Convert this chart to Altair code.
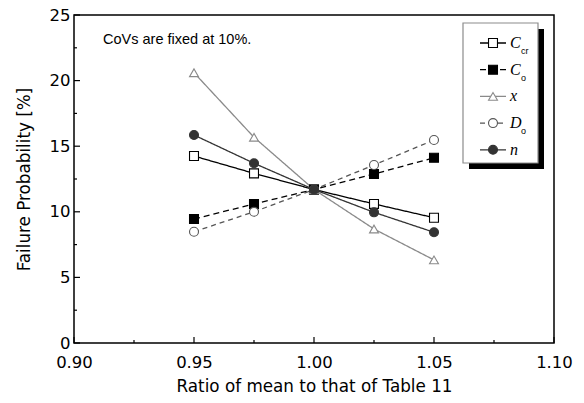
import altair as alt
import pandas as pd

# ---- data ----
ratio = [0.95, 0.975, 1.00, 1.025, 1.05]
series_names = ["Ccr", "Co", "x", "Do", "n"]
p_Ccr = [14.25, 12.93, 11.7, 10.6, 9.55]
p_Co = [9.45, 10.6, 11.7, 12.88, 14.12]
p_x = [20.6, 15.68, 11.7, 8.69, 6.33]
p_Do = [8.48, 10.0, 11.7, 13.57, 15.47]
p_n = [15.85, 13.7, 11.7, 9.96, 8.44]
legend_main = ["C", "C", "x", "D", "n"]
legend_sub = ["cr", "o", "", "o", ""]
x_major = [0.90, 0.95, 1.00, 1.05, 1.10]
x_minor = [0.925, 0.975, 1.025, 1.075]
y_major = [0, 5, 10, 15, 20, 25]
y_minor = [2.5, 7.5, 12.5, 17.5, 22.5]
note_text = ["CoVs are fixed at 10%."]
note_x = [0.9121]
note_y = [23.1]

# ---- styles ----
W, H = 480, 328
line_colors = ["#000000", "#000000", "#8a8a8a", "#555555", "#333333"]
dashes = [[1, 0], [6, 4], [1, 0], [5, 4], [1, 0]]
shapes = ["square", "square", "triangle-up", "circle", "circle"]
fills = ["#ffffff", "#000000", "#ffffff", "#ffffff", "#333333"]
strokes = ["#000000", "#000000", "#8a8a8a", "#555555", "#333333"]
sizes = [80, 80, 120, 85, 85]

values = {"Ccr": p_Ccr, "Co": p_Co, "x": p_x, "Do": p_Do, "n": p_n}
rows = []
for s in series_names:
    for r, v in zip(ratio, values[s]):
        rows.append({"series": s, "ratio": r, "pf": v})
df = pd.DataFrame(rows)

color_sc = alt.Scale(domain=series_names, range=line_colors)
dash_sc = alt.Scale(domain=series_names, range=dashes)
shape_sc = alt.Scale(domain=series_names, range=shapes)
fill_sc = alt.Scale(domain=series_names, range=fills)
stroke_sc = alt.Scale(domain=series_names, range=strokes)
size_sc = alt.Scale(domain=series_names, range=sizes)

xs = alt.Scale(domain=[0.90, 1.10], nice=False)
ys = alt.Scale(domain=[0, 25], nice=False)

font = "DejaVu Sans"
x_axis = alt.Axis(values=x_major, format=".2f", title="Ratio of mean to that of Table 11",
                  ticks=False, domain=False, grid=False, labelPadding=11,
                  labelFontSize=16.5, titleFontSize=16.8, labelFont=font, titleFont=font,
                  titleFontWeight="normal", titlePadding=8, labelColor="#000", titleColor="#000",
                  labelFlush=False)
y_axis = alt.Axis(values=y_major, title="Failure Probability [%]",
                  ticks=False, domain=False, grid=False, labelPadding=4,
                  labelFontSize=16.5, titleFontSize=16.8, labelFont=font, titleFont=font,
                  titleFontWeight="normal", titlePadding=16, labelColor="#000", titleColor="#000",
                  labelFlush=False)

X = lambda: alt.X("ratio:Q", scale=xs, axis=x_axis)
Y = lambda: alt.Y("pf:Q", scale=ys, axis=y_axis)

base = alt.Chart(df)
lines = base.mark_line(strokeWidth=1.3).encode(
    x=X(), y=Y(),
    color=alt.Color("series:N", scale=color_sc, legend=None),
    strokeDash=alt.StrokeDash("series:N", scale=dash_sc, legend=None),
    detail="series:N",
)

points = base.mark_point(filled=True, opacity=1, strokeWidth=1.1).encode(
    x=X(), y=Y(),
    shape=alt.Shape("series:N", scale=shape_sc, legend=None),
    fill=alt.Fill("series:N", scale=fill_sc, legend=None),
    stroke=alt.Stroke("series:N", scale=stroke_sc, legend=None),
    size=alt.Size("series:N", scale=size_sc, legend=None),
    order=alt.Order("ord:Q"),
).transform_calculate(ord="indexof(['Ccr','Co','x','Do','n'], datum.series)")

# inward ticks
xmaj = alt.Chart(pd.DataFrame({"ratio": x_major})).mark_rule(color="black", strokeWidth=1.2).encode(
    x=X(), y=alt.value(H), y2=alt.value(H - 6))
xmin = alt.Chart(pd.DataFrame({"ratio": x_minor})).mark_rule(color="black", strokeWidth=1.2).encode(
    x=X(), y=alt.value(H), y2=alt.value(H - 3))
ymaj = alt.Chart(pd.DataFrame({"pf": y_major})).mark_rule(color="black", strokeWidth=1.2).encode(
    y=Y(), x=alt.value(0), x2=alt.value(6))
ymin = alt.Chart(pd.DataFrame({"pf": y_minor})).mark_rule(color="black", strokeWidth=1.2).encode(
    y=Y(), x=alt.value(0), x2=alt.value(3))

note = alt.Chart(pd.DataFrame({"ratio": note_x, "pf": note_y, "t": note_text})).mark_text(
    align="left", baseline="middle", font="Liberation Sans", fontSize=14.5, color="black").encode(
    x=X(), y=Y(), text="t:N")

# ---- custom legend box (pixel layout) ----
lx0, ly0, lx1, ly1 = 389, 8, 464, 148
one = pd.DataFrame({"a": [0]})
shadow = alt.Chart(one).mark_rect(color="black").encode(
    x=alt.value(lx0 + 6), x2=alt.value(lx1 + 6), y=alt.value(ly0 + 6), y2=alt.value(ly1 + 6))
box = alt.Chart(one).mark_rect(fill="white", stroke="#8c8c8c", strokeWidth=1.2).encode(
    x=alt.value(lx0), x2=alt.value(lx1), y=alt.value(ly0), y2=alt.value(ly1))

leg = pd.DataFrame({
    "series": series_names,
    "main": legend_main,
    "sub": legend_sub,
})
leg["ly"] = [ly0 + 20 + i * 26.7 for i in range(len(series_names))]
leg["lxa"] = [lx0 + 17] * len(series_names)
leg["lxb"] = [lx0 + 43] * len(series_names)
leg["sx"] = [lx0 + 58] * len(series_names)

leg_base = alt.Chart(leg)
leg_lines = leg_base.mark_rule(strokeWidth=1.3).encode(
    x=alt.X("lxa:Q", scale=None), x2="lxb:Q",
    y=alt.Y("ly:Q", scale=None),
    color=alt.Color("series:N", scale=color_sc, legend=None),
    strokeDash=alt.StrokeDash("series:N", scale=dash_sc, legend=None),
)
leg_pts = leg_base.mark_point(filled=True, opacity=1, strokeWidth=1.1).encode(
    x=alt.value(lx0 + 30),
    y=alt.Y("ly:Q", scale=None),
    shape=alt.Shape("series:N", scale=shape_sc, legend=None),
    fill=alt.Fill("series:N", scale=fill_sc, legend=None),
    stroke=alt.Stroke("series:N", scale=stroke_sc, legend=None),
    size=alt.Size("series:N", scale=size_sc, legend=None),
)
leg_txt = leg_base.mark_text(align="left", baseline="middle", font="Liberation Serif",
                             fontStyle="italic", fontSize=16, color="black").encode(
    x=alt.value(lx0 + 47), y=alt.Y("ly:Q", scale=None), text="main:N")
leg_sub = leg_base.mark_text(align="left", baseline="middle", font="Liberation Sans",
                             fontSize=9, color="black", dy=8).encode(
    x=alt.X("sx:Q", scale=None), y=alt.Y("ly:Q", scale=None), text="sub:N")

chart = alt.layer(
    lines, xmaj, xmin, ymaj, ymin, note, points,
    shadow, box, leg_lines, leg_pts, leg_txt, leg_sub
).properties(
    width=W, height=H,
    background="white",
    autosize=alt.AutoSizeParams(type="none"),
    padding={"left": 74, "top": 15, "right": 30, "bottom": 60},
).configure_view(stroke="black", strokeWidth=1.5)

chart.save("out.html", embed_options={"renderer": "svg", "actions": False})
